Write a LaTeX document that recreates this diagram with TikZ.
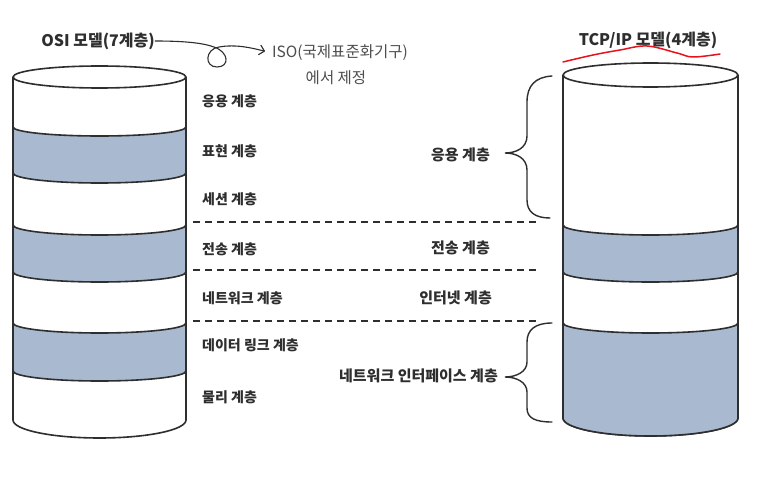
\documentclass[tikz,border=0pt]{standalone}
\usepackage{fontspec}
\setmainfont{Noto Sans CJK KR}
\usetikzlibrary{arrows.meta}
\definecolor{ink}{HTML}{2E2E2E}
\definecolor{bandblue}{HTML}{A9B9CF}
\definecolor{penred}{HTML}{E8121B}
\tikzset{
  cyl/.style={draw=ink, line width=1.6pt, line join=round},
  band/.style={cyl, fill=bandblue},
  lbl/.style={font=\fontsize{14}{16}\selectfont\bfseries, text=ink, inner sep=0pt},
  rlbl/.style={font=\fontsize{15}{17}\selectfont\bfseries, text=ink, inner sep=0pt},
  ttl/.style={font=\fontsize{16}{18}\selectfont\bfseries, text=ink, inner sep=0pt},
  note/.style={font=\fontsize{15.5}{18}\selectfont, text=ink!85, inner sep=0pt},
  sep/.style={draw=ink, line width=1.4pt, dash pattern=on 7pt off 5pt},
  brace/.style={draw=ink, line width=1.4pt, line cap=round},
}
\begin{document}
\begin{tikzpicture}[x=1pt,y=1pt]
\useasboundingbox (0,0) rectangle (782,-500);
\fill[white] (0,0) rectangle (782,-500);

% ---------- left cylinder (OSI) ----------
\draw[cyl, fill=white] (13,-77) -- (13,-420) arc[start angle=180,end angle=360,x radius=86.5,y radius=18] -- (186,-77);
\draw[cyl, fill=white] (99.5,-77) ellipse[x radius=86.5, y radius=11];
\draw[band] (13,-127) arc[start angle=180,end angle=360,x radius=86.5,y radius=9] -- (186,-173) arc[start angle=0,end angle=-180,x radius=86.5,y radius=10] -- cycle;
\draw[band] (13,-225) arc[start angle=180,end angle=360,x radius=86.5,y radius=10] -- (186,-272) arc[start angle=0,end angle=-180,x radius=86.5,y radius=10] -- cycle;
\draw[band] (13,-323) arc[start angle=180,end angle=360,x radius=86.5,y radius=10] -- (186,-371) arc[start angle=0,end angle=-180,x radius=86.5,y radius=10] -- cycle;

% ---------- right cylinder (TCP/IP) ----------
\draw[cyl, fill=white] (563,-75) -- (563,-418) arc[start angle=180,end angle=360,x radius=87.5,y radius=18] -- (738,-75);
\draw[cyl, fill=white] (650.5,-75) ellipse[x radius=87.5, y radius=12];
\draw[band] (563,-225) arc[start angle=180,end angle=360,x radius=87.5,y radius=10] -- (738,-272) arc[start angle=0,end angle=-180,x radius=87.5,y radius=10] -- cycle;
\draw[band] (563,-323) arc[start angle=180,end angle=360,x radius=87.5,y radius=10] -- (738,-418) arc[start angle=0,end angle=-180,x radius=87.5,y radius=18] -- cycle;

% ---------- dashed separators ----------
\coordinate (d1a) at (193,-222); \coordinate (d1b) at (540,-222);
\coordinate (d2a) at (193,-270); \coordinate (d2b) at (540,-270);
\coordinate (d3a) at (193,-321); \coordinate (d3b) at (540,-321);
\draw[sep] (d1a) -- (d1b);
\draw[sep] (d2a) -- (d2b);
\draw[sep] (d3a) -- (d3b);

% ---------- OSI layer labels ----------
\node[lbl, anchor=west] (l7) at (202,-101) {응용 계층};
\node[lbl, anchor=west] (l6) at (202,-151) {표현 계층};
\node[lbl, anchor=west] (l5) at (202,-199) {세션 계층};
\node[lbl, anchor=west] (l4) at (202,-249) {전송 계층};
\node[lbl, anchor=west] (l3) at (202,-298) {네트워크 계층};
\node[lbl, anchor=west] (l2) at (202,-345) {데이터 링크 계층};
\node[lbl, anchor=west] (l1) at (202,-397) {물리 계층};

% ---------- TCP/IP layer labels ----------
\node[rlbl, anchor=east] (r4) at (490,-155) {응용 계층};
\node[rlbl, anchor=east] (r3) at (490,-248) {전송 계층};
\node[rlbl, anchor=east] (r2) at (492,-298) {인터넷 계층};
\node[rlbl, anchor=east] (r1) at (498,-376) {네트워크 인터페이스 계층};

% ---------- braces ----------
\draw[brace] (552,-76) .. controls (535,-77) and (527,-86) .. (527,-102) -- (527,-136)
  .. controls (527,-148) and (516,-153) .. (505,-153)
  .. controls (516,-153) and (527,-158) .. (527,-170) -- (527,-200)
  .. controls (527,-212) and (535,-218) .. (550,-218);
\draw[brace] (552,-323) .. controls (535,-323) and (527,-330) .. (527,-342) -- (527,-362)
  .. controls (527,-372) and (516,-377) .. (505,-377)
  .. controls (516,-377) and (527,-382) .. (527,-392) -- (527,-408)
  .. controls (527,-418) and (535,-422) .. (552,-422);

% ---------- titles ----------
\node[ttl] (osi) at (98,-41) {OSI 모델(7계층)};
\node[ttl] (tcp) at (648,-40) {TCP/IP 모델(4계층)};
\node[note, anchor=west] (iso) at (272,-53) {ISO(국제표준화기구)};
\node[note] (iso2) at (336,-78) {에서 제정};

% arrow with loop
\draw[draw=ink, line width=1.1pt, shorten >=7pt, -{Straight Barb[length=5pt,width=10pt]}]
  (osi.east) .. controls (185,-41) and (203,-43) .. (214,-47)
  .. controls (229,-52) and (230,-67) .. (217,-67)
  .. controls (204,-67) and (205,-49) .. (219,-47)
  .. controls (236,-44) and (252,-48) .. (iso.west);

% red underline
\draw[penred, line width=1.5pt, line cap=round] plot[smooth, tension=0.6] coordinates
  {(563,-62) (593,-55) (620,-50) (647,-46) (677,-53) (693,-57) (720,-54)};
\end{tikzpicture}
\end{document}
